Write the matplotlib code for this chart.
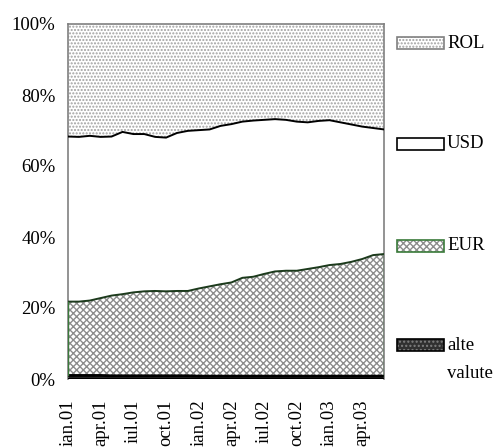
import matplotlib
matplotlib.use("Agg")
import matplotlib.pyplot as plt
from matplotlib.patches import Rectangle
import numpy as np

plt.rcParams['font.family'] = ['Liberation Serif', 'DejaVu Serif']
plt.rcParams['hatch.linewidth'] = 1.0

# monthly data, Jan 2001 - Jun 2003 (% of total)
months = ["ian.01", "feb.01", "mar.01", "apr.01", "mai.01", "iun.01", "iul.01", "aug.01",
          "sep.01", "oct.01", "nov.01", "dec.01", "ian.02", "feb.02", "mar.02", "apr.02",
          "mai.02", "iun.02", "iul.02", "aug.02", "sep.02", "oct.02", "nov.02", "dec.02",
          "ian.03", "feb.03", "mar.03", "apr.03", "mai.03", "iun.03"]
alte = [1.0, 1.0, 1.0, 1.0, 0.9, 0.9, 0.9, 0.9, 0.9, 0.9, 0.9, 0.9, 0.8, 0.8, 0.8,
        0.8, 0.8, 0.8, 0.8, 0.8, 0.8, 0.8, 0.8, 0.8, 0.8, 0.8, 0.8, 0.8, 0.8, 0.8]
eur = [20.8, 20.8, 21.1, 21.8, 22.6, 23.0, 23.5, 23.8, 23.9, 23.8, 23.9, 23.9, 24.7, 25.3,
       25.9, 26.4, 27.7, 28.0, 28.8, 29.5, 29.7, 29.7, 30.2, 30.7, 31.3, 31.6, 32.2, 33.0,
       34.1, 34.4]
usd = [46.5, 46.4, 46.4, 45.4, 44.8, 45.7, 44.6, 44.3, 43.4, 43.3, 44.5, 45.1, 44.6, 44.2,
       44.6, 44.6, 44.0, 44.0, 43.4, 42.9, 42.5, 42.0, 41.3, 41.2, 40.8, 39.9, 38.7, 37.3,
       35.8, 35.1]
rol = [100 - a - e - u for a, e, u in zip(alte, eur, usd)]

series_names = ["ROL", "USD", "EUR", "alte valute"]
tick_every = 3

W, H = 496, 447
fig = plt.figure(figsize=(W / 100, H / 100), dpi=100)
L, R, T, B = 68, 384, 24, 379
ax = fig.add_axes([L / W, 1 - B / H, (R - L) / W, (B - T) / H])

x = np.arange(len(months))
a = np.array(alte)
e = a + np.array(eur)
u = e + np.array(usd)
top = u + np.array(rol)

rol_style = dict(facecolor='white', edgecolor='#a0a0a0', hatch='.....')
usd_style = dict(facecolor='white', edgecolor='none')
eur_style = dict(facecolor='white', edgecolor='#8c8c8c', hatch='xxxxx')
alte_style = dict(facecolor='#303030', edgecolor='#808080', hatch='....')

ax.fill_between(x, 0, a, linewidth=0, **alte_style)
ax.fill_between(x, a, e, linewidth=0, **eur_style)
ax.fill_between(x, e, u, linewidth=0, **usd_style)
ax.fill_between(x, u, top, linewidth=0, **rol_style)

ax.plot(x, u, color='black', lw=1.4, zorder=5)
ax.plot(x, e, color='#1c3a1c', lw=1.4, zorder=5)
ax.plot(x, a, color='black', lw=2.0, zorder=5)
ax.plot([0, 0], [a[0], e[0]], color='#3a7a3a', lw=1.0, zorder=5)
ax.plot([x[-1], x[-1]], [a[-1], e[-1]], color='#3a7a3a', lw=1.0, zorder=5)
ax.plot(x, np.zeros_like(x, dtype=float), color='black', lw=2.5, zorder=6)

ax.set_xlim(0, len(months) - 1)
ax.set_ylim(0, 100)
for s in ['top', 'left', 'right']:
    ax.spines[s].set_color('#808080')
    ax.spines[s].set_linewidth(1.2)
ax.spines['bottom'].set_visible(False)

ax.set_yticks(np.arange(0, 101, 20))
ax.set_yticklabels([f"{v}%" for v in range(0, 101, 20)], fontsize=13.5)
ax.set_xticks(x[::tick_every])
ax.set_xticklabels(months[::tick_every], rotation=90, fontsize=13.5, va='top')
ax.tick_params(axis='both', length=0)
ax.tick_params(axis='y', pad=9)
ax.tick_params(axis='x', pad=15)

# legend drawn manually
fills = [rol_style, usd_style, eur_style, alte_style]
borders = ['#808080', 'black', '#3a7a3a', 'black']
ys = [43, 144, 246, 345]
for name, fl, bc, yc in zip(series_names, fills, borders, ys):
    x0, w, h = 397, 47, 12
    fig.patches.append(Rectangle((x0 / W, 1 - (yc + h / 2) / H), w / W, h / H,
                                 transform=fig.transFigure, linewidth=0, **fl))
    fig.patches.append(Rectangle((x0 / W, 1 - (yc + h / 2) / H), w / W, h / H,
                                 transform=fig.transFigure, facecolor='none',
                                 edgecolor=bc, linewidth=1.2))
    words = name.split(' ')
    fig.text(447 / W, 1 - yc / H, words[0], fontsize=13.5, va='center', ha='left')
    if len(words) > 1:
        fig.text(447 / W, 1 - (yc + 29) / H, words[1], fontsize=13.5, va='center', ha='left')

fig.savefig("out.png", dpi=100)
